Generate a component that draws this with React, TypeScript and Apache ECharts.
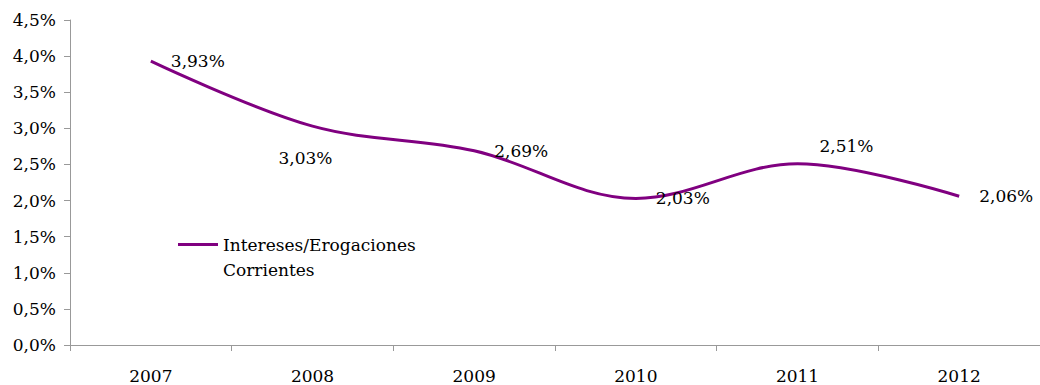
import React, { useEffect, useRef } from "react";
import * as echarts from "echarts";

const categories = ["2007", "2008", "2009", "2010", "2011", "2012"];
const values = [3.93, 3.03, 2.69, 2.03, 2.51, 2.06];
const seriesName = "Intereses/Erogaciones Corrientes";
const legendLines = ["Intereses/Erogaciones", "Corrientes"];
const FONT = "DejaVu Serif";

const fmt = (v: number, d: number) => v.toFixed(d).replace(".", ",") + "%";

export default function App() {
  const ref = useRef<HTMLDivElement>(null);
  useEffect(() => {
    document.body.style.margin = "0";
    const chart = echarts.init(ref.current!, null, { renderer: "svg" });
    const labelOverrides: Record<number, any> = {
      1: { position: "bottom", distance: 23, offset: [-7, 0] },
      4: { position: "right", distance: 22, offset: [0, -18] },
    };
    chart.setOption({
      animation: false,
      textStyle: { fontFamily: FONT },
      grid: { left: 70, right: 0, top: 20, bottom: 40, containLabel: false },
      legend: {
        left: 178,
        top: 207,
        padding: 0,
        icon: "rect",
        itemWidth: 40,
        itemHeight: 3,
        data: [seriesName],
        formatter: () => "{sp| }\n{t|" + legendLines[0] + "}\n{t|" + legendLines[1] + "}",
        textStyle: {
          fontFamily: FONT,
          fontSize: 17,
          color: "#000",
          lineHeight: 25,
          rich: {
            sp: { fontSize: 17, lineHeight: 25, fontFamily: FONT },
            t: { fontSize: 17, lineHeight: 25, fontFamily: FONT, color: "#000" },
          },
        },
      },
      xAxis: {
        type: "category",
        data: categories,
        boundaryGap: true,
        axisLine: { lineStyle: { color: "#999", width: 1 } },
        axisTick: { show: true, alignWithLabel: false, length: 6, lineStyle: { color: "#999" } },
        axisLabel: { color: "#000", fontSize: 17, fontFamily: FONT, margin: 22 },
        splitLine: { show: false },
      },
      yAxis: {
        type: "value",
        min: 0,
        max: 4.5,
        interval: 0.5,
        axisLine: { show: true, lineStyle: { color: "#999", width: 1 } },
        axisTick: { show: true, length: 6, lineStyle: { color: "#999" } },
        axisLabel: {
          color: "#000",
          fontSize: 17,
          fontFamily: FONT,
          margin: 14,
          formatter: (v: number) => fmt(v, 1),
        },
        splitLine: { show: false },
      },
      series: [
        {
          name: seriesName,
          type: "line",
          smooth: 0.35,
          symbol: "circle",
          symbolSize: 0,
          lineStyle: { color: "#800080", width: 3 },
          itemStyle: { color: "#800080" },
          label: {
            show: true,
            position: "right",
            distance: 20,
            color: "#000",
            fontSize: 17,
            fontFamily: FONT,
            formatter: (p: any) => fmt(p.value, 2),
          },
          data: values.map((v, i) =>
            labelOverrides[i] ? { value: v, label: labelOverrides[i] } : v
          ),
        },
      ],
    });
    return () => chart.dispose();
  }, []);
  return <div ref={ref} style={{ width: 1040, height: 385 }} />;
}
